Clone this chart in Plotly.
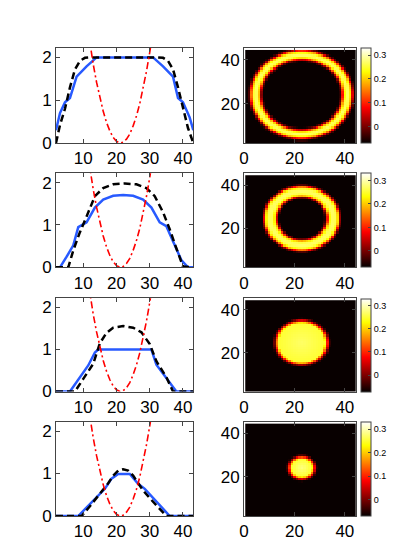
import numpy as np
import plotly.graph_objects as go

# Potencial harmônico (curva vermelha, igual nos 4 painéis)
x_pot = [11, 12, 13, 14, 15, 16, 17, 18, 19, 20, 21, 22, 23, 24, 25, 26, 27, 28, 29, 30, 31]
y_pot = [2.85, 2.32, 1.84, 1.42, 1.05, 0.74, 0.48, 0.28, 0.13, 0.04, 0.0, 0.02, 0.09, 0.21, 0.40,
         0.63, 0.92, 1.27, 1.67, 2.12, 2.63]

# Perfis alvo (preto tracejado) e obtidos (azul) por linha
x_preto_1 = [1.8, 3, 4.5, 6, 7.5, 9, 10.5, 12, 32.5, 34, 35.5, 37, 38.5, 40, 41.5, 43.1]
y_preto_1 = [0.0, 0.42, 0.8, 1.3, 1.72, 1.92, 1.99, 2.0, 2.0, 1.99, 1.92, 1.72, 1.3, 0.8, 0.35, 0.0]
x_azul_1 = [1.8, 3, 4.5, 6, 8, 11, 14, 31, 34, 37, 38.5, 40, 42, 43.1]
y_azul_1 = [0.3, 0.7, 0.95, 1.05, 1.55, 1.79, 2.0, 2.0, 1.79, 1.55, 1.05, 0.95, 0.6, 0.3]

x_preto_2 = [1.8, 5.5, 7, 9, 11, 13.5, 16, 19, 22.5, 26, 29, 31.5, 34, 36, 38, 40, 43.1]
y_preto_2 = [0.0, 0.0, 0.4, 0.83, 1.2, 1.68, 1.87, 1.96, 1.98, 1.96, 1.87, 1.68, 1.3, 0.9, 0.45, 0.02, 0.0]
x_azul_2 = [1.8, 3, 5, 7, 8.5, 11, 13.5, 16, 19, 22, 25, 28, 30.5, 33, 35, 37, 39.5, 41.5, 43.1]
y_azul_2 = [0.0, 0.0, 0.25, 0.52, 0.95, 1.06, 1.41, 1.6, 1.69, 1.71, 1.69, 1.6, 1.41, 1.06, 0.97, 0.6, 0.17, 0.0, 0.0]

x_preto_3 = [1.8, 7.5, 10, 13, 15, 17, 19, 22, 25, 27.5, 30, 32, 35, 37, 43.1]
y_preto_3 = [0.0, 0.0, 0.3, 0.66, 1.15, 1.4, 1.52, 1.56, 1.52, 1.41, 1.13, 0.72, 0.34, 0.0, 0.0]
x_azul_3 = [1.8, 6, 11.5, 13.5, 14.5, 30.5, 32, 38, 43.1]
y_azul_3 = [0.0, 0.0, 0.62, 0.93, 1.0, 1.0, 0.64, 0.0, 0.0]

x_preto_4 = [1.8, 9.5, 12, 14, 16, 17.5, 19, 20.5, 22, 23.5, 25, 26.5, 28, 30, 32.5, 35, 43.1]
y_preto_4 = [0.0, 0.0, 0.23, 0.42, 0.6, 0.77, 0.95, 1.07, 1.1, 1.07, 0.95, 0.77, 0.6, 0.42, 0.2, 0.0, 0.0]
x_azul_4 = [1.8, 8.5, 16.5, 18.5, 20.5, 24, 26.5, 28.5, 36, 43.1]
y_azul_4 = [0.0, 0.0, 0.64, 0.88, 0.99, 0.99, 0.76, 0.64, 0.0, 0.0]

# Perfis radiais das densidades (raio, valor)
r_img_1 = [0, 15.0, 15.8, 16.6, 17.4, 18.1, 18.9, 19.7, 20.5, 21.3, 30]
v_img_1 = [-0.068, -0.068, 0.0, 0.17, 0.25, 0.27, 0.25, 0.17, 0.0, -0.068, -0.068]
r_img_2 = [0, 9.0, 9.8, 10.6, 11.6, 12.5, 13.4, 14.3, 15.1, 15.9, 30]
v_img_2 = [-0.068, -0.068, 0.02, 0.2, 0.26, 0.27, 0.26, 0.2, 0.02, -0.068, -0.068]
r_img_3 = [0, 9.2, 10.0, 10.8, 11.5, 30]
v_img_3 = [0.27, 0.25, 0.13, -0.01, -0.068, -0.068]
r_img_4 = [0, 4.0, 4.8, 5.6, 6.3, 30]
v_img_4 = [0.28, 0.25, 0.13, -0.01, -0.068, -0.068]
centros = [(22.8, 24.0), (22.9, 24.5), (22.8, 24.6), (22.9, 24.2)]
pixels = list(range(1, 45))

linhas = [(x_preto_1, y_preto_1, x_azul_1, y_azul_1),
          (x_preto_2, y_preto_2, x_azul_2, y_azul_2),
          (x_preto_3, y_preto_3, x_azul_3, y_azul_3),
          (x_preto_4, y_preto_4, x_azul_4, y_azul_4)]
imagens = [(r_img_1, v_img_1), (r_img_2, v_img_2), (r_img_3, v_img_3), (r_img_4, v_img_4)]

# posições em pixels da janela; a página tem 8 px de margem no body
M = 8
W, H = 395 - M, 545 - M
faixas = [(48, 143), (173.3, 267.3), (298.3, 391.5), (421.7, 516)]


def px_x(p):
    return (p - M) / W


def px_y(p):
    return 1 - (p - M) / H


hot = [[0, 'rgb(5,0,0)'], [0.375, 'rgb(255,0,0)'], [0.75, 'rgb(255,255,0)'], [1, 'rgb(255,255,255)']]
fonte = 'Liberation Sans Narrow, Arial Narrow, Liberation Sans, sans-serif'

fig = go.Figure()
layout = {}
for i in range(4):
    topo, base = faixas[i]
    dom_y = [px_y(base), px_y(topo)]
    xa, ya = 2 * i + 1, 2 * i + 1
    xb, yb = 2 * i + 2, 2 * i + 2
    xp, yp, xz, yz = linhas[i]

    fig.add_trace(go.Scatter(x=xz, y=yz, mode='lines', line=dict(color='rgb(40,90,255)', width=2.5),
                             xaxis=f'x{xa}', yaxis=f'y{ya}', showlegend=False))
    fig.add_trace(go.Scatter(x=xp, y=yp, mode='lines', line=dict(color='black', width=2.5, dash='7px,4px'),
                             xaxis=f'x{xa}', yaxis=f'y{ya}', showlegend=False))
    fig.add_trace(go.Scatter(x=x_pot, y=y_pot, mode='lines',
                             line=dict(color='red', width=1.6, dash='7px,3px,2px,3px'),
                             xaxis=f'x{xa}', yaxis=f'y{ya}', showlegend=False))

    # imagem da densidade
    r_p, v_p = imagens[i]
    cx, cy = centros[i]
    gx, gy = np.meshgrid(pixels, pixels)
    dist = np.sqrt((gx - cx) ** 2 + (gy - cy) ** 2)
    z = np.interp(dist, r_p, v_p)
    fig.add_trace(go.Heatmap(x=pixels, y=pixels, z=z, colorscale=hot, zmin=-0.07, zmax=0.33,
                             xaxis=f'x{xb}', yaxis=f'y{yb}',
                             colorbar=dict(x=px_x(361), xanchor='left', xpad=0, ypad=0,
                                           y=dom_y[0], yanchor='bottom',
                                           len=(base - topo) / H, lenmode='fraction', thickness=10,
                                           outlinecolor='#444', outlinewidth=1,
                                           tickvals=[0, 0.1, 0.2, 0.3], ticktext=['0', '0.1', '0.2', '0.3'],
                                           ticks='inside', ticklen=3, tickcolor='#444',
                                           tickfont=dict(family=fonte, size=9, color='black'))))

    eixo = dict(showline=True, linecolor='#444', linewidth=1, mirror='ticks', ticks='inside', ticklen=4,
                tickcolor='#444', showgrid=False, zeroline=False,
                tickfont=dict(family=fonte, size=17, color='black'))
    layout[f'xaxis{xa}'] = dict(eixo, domain=[px_x(56), px_x(193.3)], range=[1.8, 43.1],
                                tickvals=[10, 20, 30, 40], anchor=f'y{ya}')
    layout[f'yaxis{ya}'] = dict(eixo, domain=dom_y, range=[0, 2.22], tickvals=[0, 1, 2], anchor=f'x{xa}')
    layout[f'xaxis{xb}'] = dict(eixo, domain=[px_x(244), px_x(355.7)], range=[0, 44.3],
                                tickvals=[0, 20, 40], anchor=f'y{yb}')
    layout[f'yaxis{yb}'] = dict(eixo, domain=dom_y, range=[2, 45.4], tickvals=[20, 40], anchor=f'x{xb}')

fig.update_layout(width=W, height=H, margin=dict(l=0, r=0, t=0, b=0, autoexpand=False),
                  plot_bgcolor='white', paper_bgcolor='white', **layout)

fig.write_html("out.html")
